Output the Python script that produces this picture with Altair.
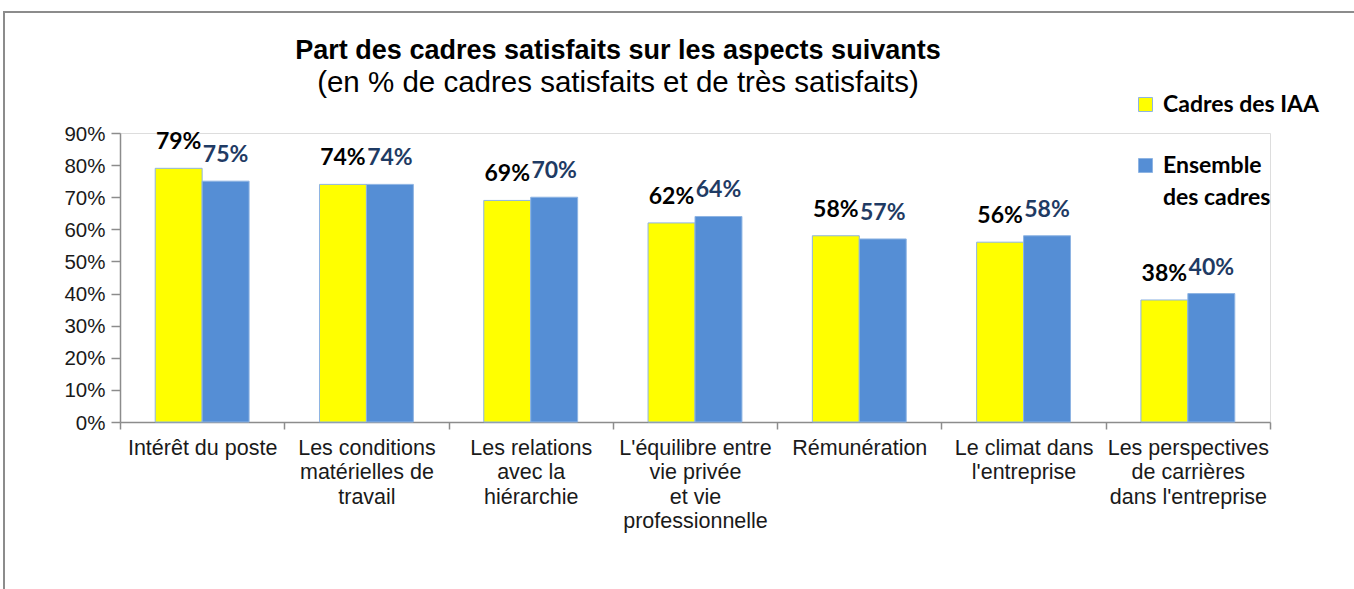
import altair as alt
import pandas as pd

categories = [
    "Intérêt du poste",
    "Les conditions|matérielles de|travail",
    "Les relations|avec la|hiérarchie",
    "L'équilibre entre|vie privée|et  vie|professionnelle",
    "Rémunération",
    "Le climat dans|l'entreprise",
    "Les perspectives|de carrières|dans l'entreprise",
]
series = ["Cadres des IAA", "Ensemble des cadres"]
iaa = [0.79, 0.74, 0.69, 0.62, 0.58, 0.56, 0.38]
ensemble = [0.75, 0.74, 0.70, 0.64, 0.57, 0.58, 0.40]
colors = ["#FFFF00", "#558ED5"]
y_ticks = [0, 0.1, 0.2, 0.3, 0.4, 0.5, 0.6, 0.7, 0.8, 0.9]

rows = []
for c, a, b in zip(categories, iaa, ensemble):
    rows.append({"cat": c, "serie": series[0], "val": a})
    rows.append({"cat": c, "serie": series[1], "val": b})
df = pd.DataFrame(rows)

base = alt.Chart(df)

x_enc = alt.X(
    "cat:N",
    sort=categories,
    scale=alt.Scale(paddingInner=0, paddingOuter=0),
    axis=alt.Axis(
        title=None,
        labelExpr="split(datum.label, '|')",
        labelAngle=0,
        labelFont="Liberation Sans",
        labelFontSize=21.5,
        labelLineHeight=24.5,
        labelColor="#1a1a1a",
        labelBaseline="top",
        labelPadding=1,
        labelLimit=200,
        tickBand="extent",
        tickSize=7,
        tickColor="#8c8c8c",
        tickWidth=1.5,
        domainColor="#8c8c8c",
        domainWidth=1.5,
    ),
)
xoff = alt.XOffset(
    "serie:N", sort=series, scale=alt.Scale(domain=series, paddingInner=0, paddingOuter=0.75)
)
y_enc = alt.Y(
    "val:Q",
    scale=alt.Scale(domain=[0, 0.9], nice=False),
    axis=alt.Axis(
        title=None,
        format=".0%",
        values=y_ticks,
        tickCount=10,
        labelOverlap=False,
        grid=False,
        labelFont="Liberation Sans",
        labelFontSize=20.5,
        labelColor="#1a1a1a",
        labelBaseline="alphabetic",
        labelPadding=6,
        tickSize=9,
        tickColor="#8c8c8c",
        tickWidth=1.5,
        domainColor="#8c8c8c",
        domainWidth=1.5,
    ),
)

bars = base.mark_bar(stroke="#8EB4E3", strokeWidth=1).encode(
    x=x_enc,
    xOffset=xoff,
    y=y_enc,
    color=alt.Color(
        "serie:N",
        sort=series,
        scale=alt.Scale(domain=series, range=colors),
        legend=alt.Legend(
            title=None,
            orient="none",
            legendX=1014,
            legendY=-40,
            symbolType="square",
            symbolSize=196,
            symbolStrokeColor="#8EB4E3",
            symbolStrokeWidth=1,
            labelFont="Lato",
            labelFontWeight="bold",
            labelFontSize=23,
            labelColor="#000000",
            labelOffset=6,
            labelLimit=300,
            labelBaseline="alphabetic",
            rowPadding=37,
            labelExpr="datum.label == 'Ensemble des cadres' ? ['Ensemble', 'des cadres'] : datum.label",
        ),
    ),
)

lab_iaa = base.transform_filter(alt.datum.serie == series[0]).mark_text(
    font="Lato", fontWeight="bold", fontSize=23, color="#000000", baseline="bottom", dy=-14
).encode(
    x=x_enc,
    xOffset=xoff,
    y=y_enc,
    text=alt.Text("val:Q", format=".0%"),
)
lab_ens = base.transform_filter(alt.datum.serie == series[1]).mark_text(
    font="Lato", fontWeight="bold", fontSize=23, color="#1F3B64", baseline="bottom", dy=-14
).encode(
    x=x_enc,
    xOffset=xoff,
    y=y_enc,
    text=alt.Text("val:Q", format=".0%"),
)

frame = alt.Chart(pd.DataFrame({"k": [0]})).mark_rect(
    fill=None, stroke="#8c8c8c", strokeWidth=2
).encode(
    x=alt.value(-116), x2=alt.value(1300), y=alt.value(-121), y2=alt.value(600)
)

chart = alt.layer(frame, bars, lab_iaa, lab_ens).properties(
    width=1150,
    height=289,
    autosize=alt.AutoSizeParams(type="none"),
    padding={"left": 120, "top": 133, "right": 84, "bottom": 167},
    title=alt.TitleParams(
        text="Part des cadres satisfaits sur les aspects suivants",
        subtitle="(en % de cadres satisfaits et de très satisfaits)",
        anchor="middle",
        dx=-77,
        offset=-87,
        font="Liberation Sans",
        fontSize=27,
        fontWeight="bold",
        color="#000000",
        subtitleFont="Liberation Sans",
        subtitleFontSize=29.5,
        subtitleColor="#000000",
        subtitlePadding=4,
    ),
).configure_view(stroke=None).configure(
    background="white", style={"guide-label": {"lineHeight": 32, "dy": 7}}
)

chart.save("out.html", embed_options={"renderer": "svg", "actions": False})
